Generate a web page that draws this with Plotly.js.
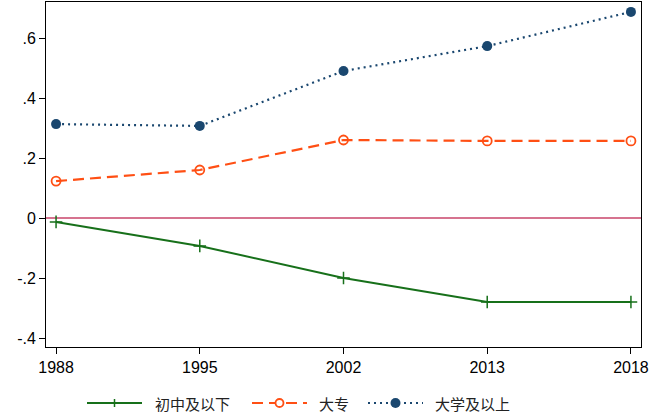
<!DOCTYPE html>
<html><head><meta charset="utf-8">
<script src="https://cdn.plot.ly/plotly-3.0.1.min.js"></script>
<style>html,body{margin:0;padding:0;background:#fff}#c{width:654px;height:418px}</style>
</head><body><div id="c"></div>
<script>
var years = ["1988","1995","2002","2013","2018"];
var juniorBelow = [-0.013,-0.093,-0.200,-0.280,-0.280];
var college = [0.123,0.160,0.260,0.257,0.257];
var univAbove = [0.313,0.307,0.490,0.573,0.687];
var seriesNames = ["初中及以下","大专","大学及以上"];
var yTickVals = [-0.4,-0.2,0,0.2,0.4,0.6];
var yTickText = ["-.4","-.2","0",".2",".4",".6"];

var W=654,H=418,L=46,R=13,T=2,B=71;
var pw=W-L-R, ph=H-T-B;
function px(x){return (x-L)/pw;}
function py(y){return (H-B-y)/ph;}

var colors=["#17701a","#ff4f14","#1a476f"];
var dashes=["solid","11px,6px","2px,4px"];

var traces = [
  {x:years,y:juniorBelow,name:seriesNames[0],type:"scatter",mode:"lines+markers",
   line:{color:colors[0],width:2},marker:{symbol:"cross-thin-open",size:9,color:colors[0],line:{color:colors[0],width:1.5}}},
  {x:years,y:college,name:seriesNames[1],type:"scatter",mode:"lines+markers",
   line:{color:colors[1],width:2.2,dash:dashes[1]},marker:{symbol:"circle-open",size:9,color:colors[1],line:{color:colors[1],width:1.8}}},
  {x:years,y:univAbove,name:seriesNames[2],type:"scatter",mode:"lines+markers",
   line:{color:colors[2],width:2.2,dash:dashes[2]},marker:{symbol:"circle",size:10,color:colors[2]}}
];

// manual legend (positions in page pixels converted to paper coords)
var legX=[87,252,368], legLen=55, legTextX=[153,317,433], legY=403;
var shapes=[{type:"line",xref:"paper",x0:0,x1:1,yref:"y",y0:0,y1:0,
    line:{color:"#c8456a",width:1.5},layer:"below"}];
var annotations=[];
for(var i=0;i<3;i++){
  shapes.push({type:"line",xref:"paper",yref:"paper",x0:px(legX[i]),x1:px(legX[i]+legLen),
    y0:py(legY),y1:py(legY),line:{color:colors[i],width:2.2,dash:dashes[i]}});
  var mx=legX[i]+legLen/2;
  if(i===0){
    shapes.push({type:"line",xref:"paper",yref:"paper",x0:px(mx),x1:px(mx),
      y0:py(legY-4),y1:py(legY+4),line:{color:colors[i],width:1.5}});
  } else if(i===1){
    shapes.push({type:"circle",xref:"paper",yref:"paper",x0:px(mx-4),x1:px(mx+4),
      y0:py(legY+4),y1:py(legY-4),line:{color:colors[i],width:1.8},fillcolor:"#fff"});
  } else {
    shapes.push({type:"circle",xref:"paper",yref:"paper",x0:px(mx-5),x1:px(mx+5),
      y0:py(legY+5),y1:py(legY-5),line:{color:colors[i],width:0},fillcolor:colors[i]});
  }
  annotations.push({xref:"paper",yref:"paper",x:px(legTextX[i]),y:py(legY),
    xanchor:"left",yanchor:"middle",showarrow:false,text:seriesNames[i],
    font:{family:"Noto Sans CJK SC, sans-serif",size:15,color:"#222"}});
}

var layout = {
  width:W,height:H,
  margin:{l:L,r:R,t:T,b:B,autoexpand:false},
  paper_bgcolor:"#fff",plot_bgcolor:"#fff",
  font:{family:"Liberation Sans, Arial, sans-serif",color:"#000",size:16},
  showlegend:false,
  xaxis:{type:"category",range:[-0.07,4.07],showgrid:false,zeroline:false,
    showline:true,linecolor:"#000",linewidth:1,mirror:true,
    ticks:"outside",ticklen:6,tickcolor:"#000",tickfont:{size:16}},
  yaxis:{range:[-0.43,0.72],showgrid:false,zeroline:false,
    showline:true,linecolor:"#000",linewidth:1,mirror:true,
    ticks:"outside",ticklen:6,tickcolor:"#000",
    tickvals:yTickVals,ticktext:yTickText,tickfont:{size:16}},
  shapes:shapes,annotations:annotations
};
Plotly.newPlot("c",traces,layout,{displayModeBar:false,staticPlot:true});
</script></body></html>
